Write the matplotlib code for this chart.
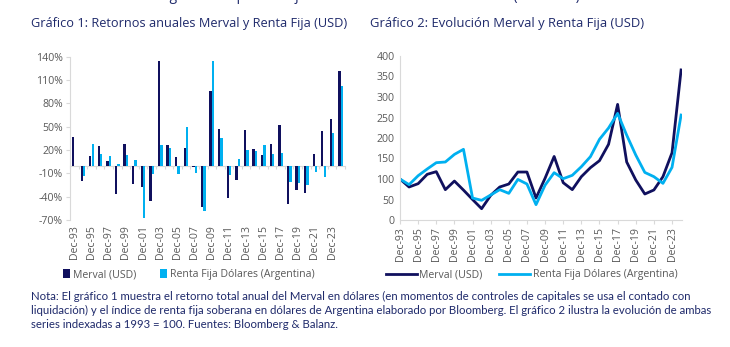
import numpy as np
import matplotlib
matplotlib.use("Agg")
import matplotlib.pyplot as plt
import matplotlib.transforms as mtransforms

## Data
years = [f"Dec-{y % 100:02d}" for y in range(1993, 2025)]

# annual returns (%)
merval_ret = [36.5, -19.7, 12.5, 25.3, 6.0, -36.4, 28.3, -23.5, -27.8, -46.0,
              135.0, 26.6, 10.7, 22.3, -2.0, -53.5, 96.0, 47.6, -41.5, -18.4,
              45.9, 21.0, 14.1, 27.9, 51.9, -49.2, -30.8, -35.1, 15.0, 45.0,
              60.4, 121.3]
rf_ret = [0.0, -14.0, 27.5, 15.5, 12.5, 2.0, 13.3, 7.0, -68.0, -10.7,
          26.0, 23.0, -10.3, 49.7, -9.5, -58.0, 135.0, 35.2, -11.5, 8.2,
          20.2, 18.9, 26.2, 14.6, 15.9, -21.0, -22.7, -24.4, -8.5, -14.5,
          42.4, 102.0]

# index 1993 = 100
merval_idx = [100, 80.5, 88.6, 111.4, 117.9, 74, 95, 73, 50, 27.6,
              60, 80.5, 87.8, 117, 117, 53.6, 102, 155, 91, 74,
              105.7, 127.6, 144.7, 184.6, 282, 141.5, 97.6, 63.4, 73.2, 105.7,
              164, 366]
rf_idx = [100, 86.2, 108, 124.4, 139.8, 141.5, 160, 172.4, 53.6, 48,
          61, 74, 65, 99, 87.8, 37.4, 85, 115.4, 100.8, 109,
          130, 154.5, 196.8, 224.4, 260, 207, 158.5, 116, 105.7, 89.4,
          128.5, 256]

navy = "#10105e"
light = "#00b0f0"
title_c = "#1f2a6b"
gray = "#595959"
axis_c = "#d9d9d9"

plt.rcParams['font.family'] = ['Open Sans', 'DejaVu Sans']

fig = plt.figure(figsize=(7.3, 3.47), dpi=100)

# cut-off line of text at the very top
fig.text(22 / 730, 1 + 4 / 347, "los bonos en dólares siguen 42% por debajo de los niveles de ese momento (Gráfico 2).",
         fontsize=10, color=title_c, va='center', ha='left')

fig.text(31 / 730, 1 - 24 / 347, "Gráfico 1: Retornos anuales Merval y Renta Fija (USD)",
         fontsize=9.2, color=title_c, va='center', ha='left')
fig.text(370 / 730, 1 - 24 / 347, "Gráfico 2: Evolución Merval y Renta Fija (USD)",
         fontsize=9.4, color=title_c, va='center', ha='left')

## Chart 1: bars
ax1 = fig.add_axes([70 / 730, 1 - 220 / 347, 275 / 730, 163.3 / 347])
x = np.arange(len(years))
w = 0.27
ax1.bar(x - 0.14, merval_ret, width=w, color=navy, label="Merval (USD)", zorder=3)
ax1.bar(x + 0.14, rf_ret, width=w, color=light, label="Renta Fija Dólares (Argentina)", zorder=3)
ax1.set_xlim(-0.5, len(years) - 0.5)
ax1.set_ylim(-70, 140)
ax1.set_yticks(np.arange(-70, 141, 30))
ax1.set_yticklabels([f"{v}%" for v in range(-70, 141, 30)])
for s in ['top', 'right']:
    ax1.spines[s].set_visible(False)
ax1.spines['left'].set_color(axis_c)
ax1.spines['bottom'].set_position(('data', 0))
ax1.spines['bottom'].set_color(axis_c)
ax1.set_xticks(np.arange(-0.5, len(years), 1))
ax1.set_xticklabels([])
ax1.tick_params(axis='x', length=2.5, color=axis_c, direction='out')
ax1.tick_params(axis='y', length=3, color=axis_c, labelsize=7.6, labelcolor=gray, pad=2)
trans1 = mtransforms.blended_transform_factory(ax1.transData, ax1.transAxes)
for i in range(0, len(years), 2):
    ax1.text(i, -0.03, years[i], transform=trans1, rotation=90, ha='center', va='top',
             fontsize=7.6, color=gray)
ax1.legend(loc='upper left', bbox_to_anchor=(-0.04, -0.275), ncol=2, frameon=False,
           fontsize=7.6, handlelength=0.6, handleheight=0.9, handletextpad=0.3,
           columnspacing=2.3, labelcolor=gray, borderaxespad=0)

## Chart 2: lines
ax2 = fig.add_axes([400 / 730, 1 - 220 / 347, 282 / 730, 164 / 347])
ax2.plot(x, merval_idx, color=navy, lw=2, label="Merval (USD)")
ax2.plot(x, rf_idx, color=light, lw=2, label="Renta Fija Dólares (Argentina)")
ax2.set_xlim(0, len(years) - 0.9)
ax2.set_ylim(0, 400)
ax2.set_yticks(np.arange(0, 401, 50))
for s in ['top', 'right']:
    ax2.spines[s].set_visible(False)
ax2.spines['left'].set_color(axis_c)
ax2.spines['bottom'].set_color(axis_c)
ax2.set_xticks(x[::2])
ax2.set_xticklabels(years[::2], rotation=90)
ax2.tick_params(axis='x', length=3, color=axis_c, labelsize=7.6, labelcolor=gray, pad=2)
ax2.tick_params(axis='y', length=0, labelsize=7.6, labelcolor=gray, pad=4)
ax2.legend(loc='upper left', bbox_to_anchor=(-0.065, -0.275), ncol=2, frameon=False,
           fontsize=7.6, handlelength=2.9, handletextpad=0.25, columnspacing=1.6,
           labelcolor=gray, borderaxespad=0)

note = ("Nota: El gráfico 1 muestra el retorno total anual del Merval en dólares (en momentos de controles de capitales se usa el contado con\n"
        "liquidación) y el índice de renta fija soberana en dólares de Argentina elaborado por Bloomberg. El gráfico 2 ilustra la evolución de ambas\n"
        "series indexadas a 1993 = 100. Fuentes: Bloomberg & Balanz.")
fig.text(31 / 730, 1 - 291 / 347, note, fontsize=8.2, color=title_c, va='top', ha='left',
         linespacing=1.3, family=['Liberation Sans Narrow', 'Lato', 'DejaVu Sans'])

fig.savefig("out.png", dpi=100)
